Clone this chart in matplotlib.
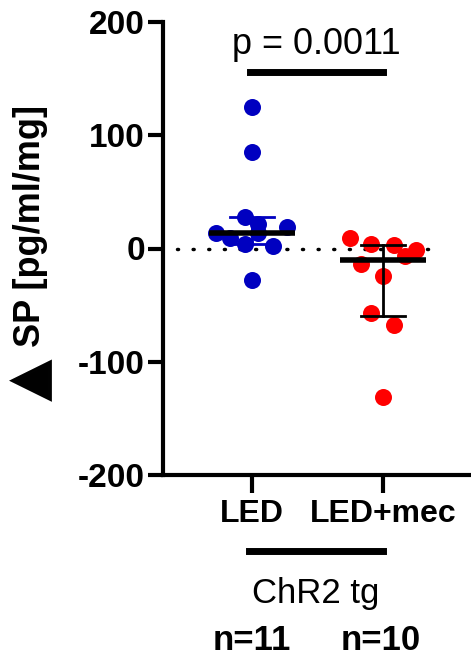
import numpy as np
import matplotlib
matplotlib.use("Agg")
import matplotlib.pyplot as plt

plt.rcParams['font.family'] = ['Liberation Sans', 'DejaVu Sans']
plt.rcParams['axes.unicode_minus'] = False

groups = ["LED", "LED+mec"]
counts = ["n=11", "n=10"]
led = [124.8, 85.4, 27.8, 21.9, 18.7, 13.8, 13.8, 9.4, 4.1, 2.0, -27.8]
led_x = [0.0, 0.0, -0.053, 0.048, 0.265, -0.275, 0.048, -0.168, -0.053, 0.158, 0.0]
mec = [9.4, 4.1, 2.9, -0.9, -6.7, -14.0, -24.3, -57.3, -67.5, -131.0]
mec_x = [-0.254, -0.089, 0.082, 0.25, 0.166, -0.170, 0.0, -0.089, 0.082, 0.0]
colors = ["#0000C0", "#FF0000"]
cap_colors = ["#0000C0", "black"]
p_text = "p = 0.0011"
group_label = "ChR2 tg"

W, H = 471, 668
fig = plt.figure(figsize=(W / 100, H / 100), dpi=100)
ax = fig.add_axes([163 / W, 1 - 475 / H, (471 - 163) / W, (475 - 22) / H])

xpos = [1, 2]
for i, (vals, offs) in enumerate([(led, led_x), (mec, mec_x)]):
    v = np.array(vals)
    med = np.median(v)
    q1 = np.quantile(v, 0.25, method="weibull")
    q3 = np.quantile(v, 0.75, method="weibull")
    ax.scatter(xpos[i] + np.array(offs), v, s=150, color=colors[i],
               zorder=3, linewidths=0)
    ax.plot([xpos[i], xpos[i]], [q1, q3], color=cap_colors[i], lw=2, zorder=4)
    for q in (q1, q3):
        ax.plot([xpos[i] - 0.165, xpos[i] + 0.165], [q, q], color=cap_colors[i],
                lw=2, zorder=4)
    ax.plot([xpos[i] - 0.33, xpos[i] + 0.33], [med, med], color="black",
            lw=4, zorder=4, solid_capstyle="butt")

ax.axhline(0, xmin=0.045, xmax=0.9, color="black", lw=2.5,
           linestyle=(0, (0.3, 4.2)), dash_capstyle="round", zorder=1)

ax.set_xlim(1 - 89 / 131, 2 + 88 / 131)
ax.set_ylim(-200, 200)
ax.set_yticks([-200, -100, 0, 100, 200])
ax.set_xticks(xpos)
ax.set_xticklabels(groups, fontsize=23, fontweight="bold")
ax.tick_params(axis="y", labelsize=24, width=3, length=11, pad=2)
ax.tick_params(axis="x", width=3, length=13, pad=4)
for lab in ax.get_yticklabels():
    lab.set_fontweight("bold")
for s in ["top", "right"]:
    ax.spines[s].set_visible(False)
ax.spines["left"].set_linewidth(3)
ax.spines["bottom"].set_linewidth(3)

# y label with triangle
fig.text(31 / W, 1 - 226 / H, "SP [pg/ml/mg]", rotation=90, fontsize=26,
         fontweight="bold", ha="center", va="center")
fig.text(31 / W, 1 - 380 / H, "\u25B2", rotation=90, fontsize=40,
         family="DejaVu Sans", ha="center", va="center")

# p-value
fig.text(316 / W, 1 - 45 / H, p_text, fontsize=26, ha="center", va="center")
fig.add_artist(plt.Line2D([250 / W, 383 / W], [1 - 72 / H, 1 - 72 / H],
                          color="black", lw=5))

# group bar and label
fig.add_artist(plt.Line2D([249 / W, 383 / W], [1 - 551 / H, 1 - 551 / H],
                          color="black", lw=5))
fig.text(316 / W, 1 - 594 / H, group_label, fontsize=25, ha="center", va="center")
fig.text(252 / W, 1 - 641 / H, counts[0], fontsize=25, fontweight="bold",
         ha="center", va="center")
fig.text(381 / W, 1 - 641 / H, counts[1], fontsize=25, fontweight="bold",
         ha="center", va="center")

fig.savefig("out.png", dpi=100)
